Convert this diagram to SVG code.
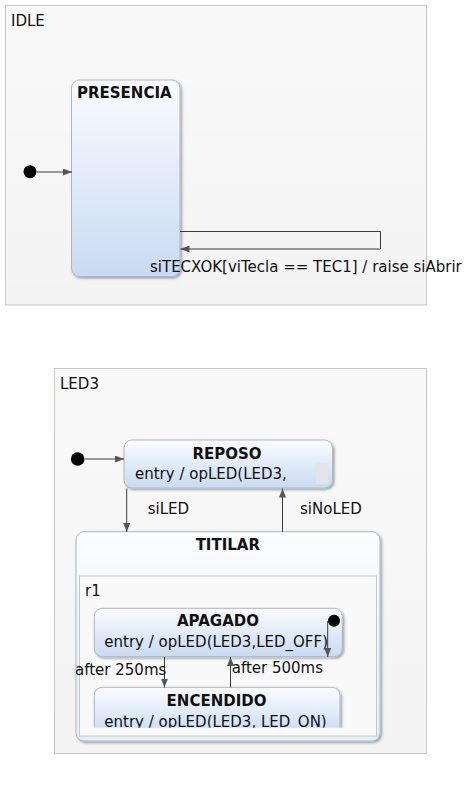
<svg xmlns="http://www.w3.org/2000/svg" width="474" height="803" viewBox="0 0 474 803">
<defs>
<style>
.t{font-family:"DejaVu Sans","Liberation Sans",sans-serif;font-size:15px;fill:#111}
.b{font-family:"DejaVu Sans","Liberation Sans",sans-serif;font-size:15px;font-weight:bold;fill:#111}
.outer{fill:url(#og);stroke:#c6c6c6;stroke-width:1}
.state{fill:url(#sg);stroke:#aeb7c4;stroke-width:1;filter:url(#sh)}
.region{fill:#f9f9f9;stroke:#c6c6c6;stroke-width:1}
.c{fill:none;stroke:#3a3a3a;stroke-width:1}
.dot{fill:#000}
</style>
<linearGradient id="og" x1="0" y1="0" x2="0" y2="1">
<stop offset="0" stop-color="#f9f9f9"/><stop offset="1" stop-color="#f3f3f3"/>
</linearGradient>
<linearGradient id="sg" x1="0" y1="0" x2="0" y2="1">
<stop offset="0" stop-color="#fafcff"/><stop offset="1" stop-color="#c9daf2"/>
</linearGradient>
<linearGradient id="tg" x1="0" y1="0" x2="0" y2="1">
<stop offset="0" stop-color="#fbfcfe"/><stop offset="1" stop-color="#e6eef9"/>
</linearGradient>
<filter id="sh" x="-10%" y="-10%" width="130%" height="130%">
<feDropShadow dx="1.5" dy="1.5" stdDeviation="1.3" flood-color="#000" flood-opacity="0.35"/>
</filter>
<marker id="ah" markerWidth="9" markerHeight="7" refX="9" refY="3.5" orient="auto" markerUnits="userSpaceOnUse">
<path d="M0,0 L9,3.5 L0,7 z" fill="#555"/>
</marker>
<clipPath id="encClip"><rect x="85" y="680" width="270" height="47.8"/></clipPath>
</defs>

<g id="IDLE">
<rect class="outer" x="5.5" y="5.5" width="421" height="299.5"/>
<text class="t" x="11" y="26">IDLE</text>
</g>
<g id="IDLE_init"><circle class="dot" cx="30" cy="171.7" r="6.5"/></g>
<g id="PRESENCIA">
<rect class="state" x="71.5" y="80" width="108.5" height="196.5" rx="8" ry="8"/>
<text class="b" x="77" y="98">PRESENCIA</text>
</g>

<g id="LED3">
<rect class="outer" x="54.5" y="368.5" width="372" height="385"/>
<text class="t" x="60" y="389">LED3</text>
</g>
<g id="LED3_init"><circle class="dot" cx="77.7" cy="459" r="6.8"/></g>
<g id="REPOSO">
<rect class="state" x="124" y="440" width="208.5" height="48" rx="8" ry="8"/>
<text class="b" x="227" y="458.5" text-anchor="middle">REPOSO</text>
<text class="t" x="135" y="479">entry / opLED(LED3,</text>
<rect x="315.7" y="462.7" width="12.6" height="21.3" fill="#e2e4e8"/>
</g>
<g id="TITILAR">
<rect class="state" style="fill:url(#tg)" x="76" y="531.7" width="304" height="209.3" rx="8" ry="8"/>
<text class="b" x="227.8" y="550" text-anchor="middle">TITILAR</text>
<g id="r1">
<rect class="region" x="79.5" y="576" width="297" height="160"/>
<text class="t" x="85" y="596">r1</text>
</g>
<g id="APAGADO">
<rect class="state" x="94.3" y="608.3" width="248" height="48.4" rx="8" ry="8"/>
<text class="b" x="218" y="625.7" text-anchor="middle">APAGADO</text>
<text class="t" x="104.3" y="647.3">entry / opLED(LED3,LED_OFF)</text>
</g>
<g id="r1_init"><circle class="dot" cx="334" cy="620.7" r="6"/></g>
<g id="ENCENDIDO" clip-path="url(#encClip)">
<rect class="state" x="94.3" y="687.3" width="245.7" height="48" rx="8" ry="8"/>
<text class="b" x="216.5" y="705.7" text-anchor="middle">ENCENDIDO</text>
<text class="t" x="104.3" y="726.5">entry / opLED(LED3, LED_ON)</text>
</g>
</g>

<g id="connectors">
<line class="c" x1="37" y1="172" x2="72" y2="172" marker-end="url(#ah)"/>
<path class="c" d="M180,231.5 H380.5 V249 H180.5" marker-end="url(#ah)"/>
<text class="t" x="150" y="272">siTECXOK[viTecla == TEC1] / raise siAbrir</text>
<line class="c" x1="85" y1="459" x2="124" y2="459" marker-end="url(#ah)"/>
<line class="c" x1="126.7" y1="488.5" x2="126.7" y2="532" marker-end="url(#ah)"/>
<text class="t" x="147.7" y="514">siLED</text>
<line class="c" x1="282.5" y1="532" x2="282.5" y2="488.5" marker-end="url(#ah)"/>
<text class="t" x="300" y="514">siNoLED</text>
<line class="c" x1="327.7" y1="621" x2="327.7" y2="657" marker-end="url(#ah)"/>
<line class="c" x1="164.5" y1="657" x2="164.5" y2="687.5" marker-end="url(#ah)"/>
<text class="t" x="75" y="675">after 250ms</text>
<line class="c" x1="230.5" y1="687.5" x2="230.5" y2="657" marker-end="url(#ah)"/>
<text class="t" x="231.7" y="673.3">after 500ms</text>
</g>
</svg>
